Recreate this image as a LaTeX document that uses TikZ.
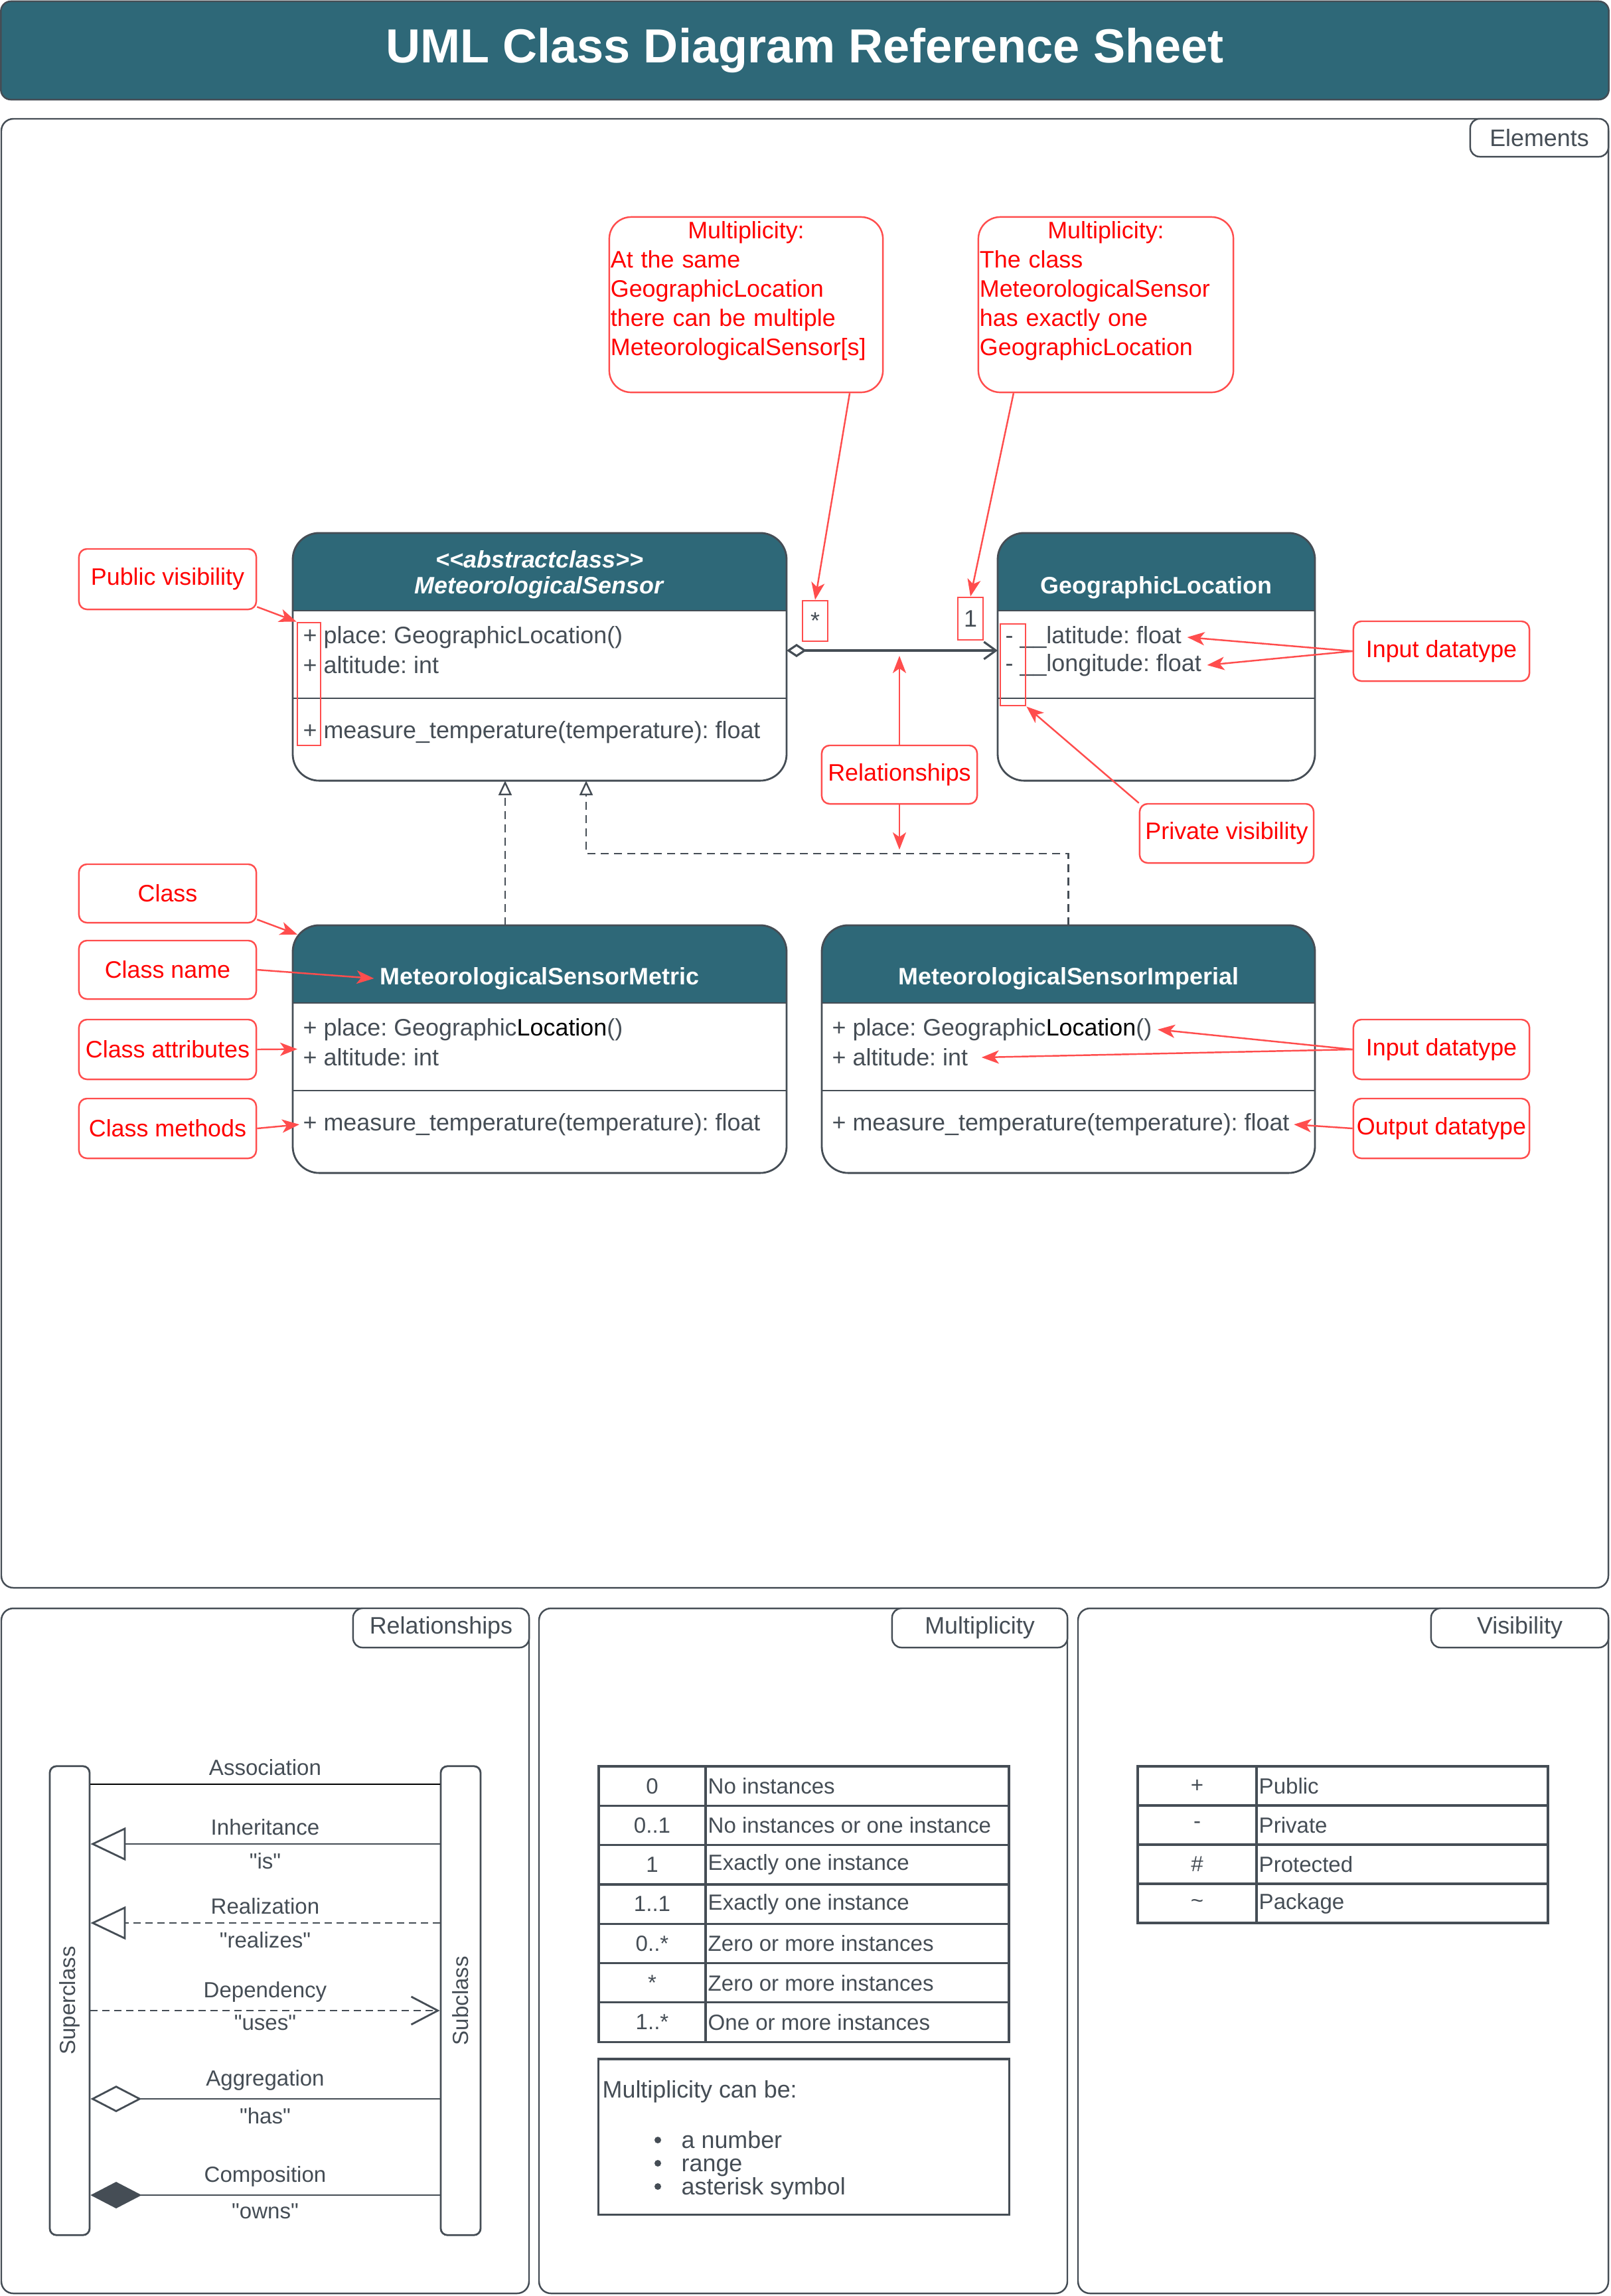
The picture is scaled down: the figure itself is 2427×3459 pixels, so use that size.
\documentclass[tikz,border=0pt]{standalone}
\usepackage{fontspec}
\setmainfont{Liberation Sans}[Ligatures=TeXOff]
\usetikzlibrary{arrows.meta,positioning}

\definecolor{umlteal}{RGB}{46,104,120}
\definecolor{umlgray}{RGB}{69,77,85}
\definecolor{notered}{RGB}{255,77,77}

\begin{document}
\frenchspacing
\begin{tikzpicture}[x=0.01cm, y=-0.01cm,
    font=\fontsize{10.2}{12.5}\selectfont, text=umlgray,
    panel/.style={draw=umlgray, line width=0.7pt, rounded corners=0.18cm},
    tabbox/.style={draw=umlgray, line width=0.7pt, rounded corners=0.14cm, fill=white, inner sep=0pt},
    classframe/.style={draw=umlgray, line width=0.8pt, rounded corners=0.4cm, inner sep=0pt, outer sep=0pt},
    headtext/.style={text=white, font=\fontsize{10.2}{12.5}\selectfont\bfseries},
    member/.style={anchor=west, inner sep=0pt},
    notebox/.style={draw=notered, line width=0.7pt, rounded corners=0.12cm, text=red, inner sep=0pt},
    redmark/.style={draw=notered, line width=0.8pt, inner sep=0pt},
    pointer/.style={draw=notered, line width=0.7pt, -{Stealth[length=0.26cm, width=0.2cm, inset=0.07cm]}},
    aggr/.style={draw=umlgray, line width=0.9pt, {Diamond[open, length=0.3cm, width=0.2cm]}-{Straight Barb[length=0.18cm, width=0.26cm]}},
    realize/.style={draw=umlgray, line width=0.7pt, dash pattern=on 0.12cm off 0.08cm, -{Triangle[open, length=0.22cm, width=0.2cm]}},
    sidebar/.style={draw=umlgray, line width=0.8pt, rounded corners=0.1cm, inner sep=0pt, font=\fontsize{9.4}{11}\selectfont},
    rel/.style={draw=umlgray, line width=0.8pt},
    small/.style={font=\fontsize{9.4}{11}\selectfont},
    grid/.style={draw=umlgray, line width=0.9pt}]

    \useasboundingbox (0,0) rectangle (2427,3459);

    % Title
    \node (titlebar) at (1212.5,76) [draw=umlgray, line width=0.7pt, fill=umlteal, rounded corners=0.15cm, minimum width=24.21cm, minimum height=1.48cm, text=white, font=\fontsize{20.5}{24}\selectfont\bfseries] {UML Class Diagram Reference Sheet};

    % Panels
    \draw[panel] (2,179) rectangle (2423,2392);
    \draw[panel] (2,2423) rectangle (797,3455);
    \draw[panel] (812,2423) rectangle (1608,3455);
    \draw[panel] (1624,2423) rectangle (2423,3455);
    \node (eltab) at (2319,207.5) [tabbox, minimum width=2.08cm, minimum height=0.57cm] {Elements};
    \node (reltab) at (664.5,2452.5) [tabbox, minimum width=2.65cm, minimum height=0.59cm] {Relationships};
    \node (multab) at (1476,2452.5) [tabbox, minimum width=2.64cm, minimum height=0.59cm] {Multiplicity};
    \node (vistab) at (2289.5,2452.5) [tabbox, minimum width=2.67cm, minimum height=0.59cm] {Visibility};

    % Class frames
    \foreach \nm/\xa/\xb/\ya in {msensor/441/1185/803, geoloc/1503/1981/803, metric/441/1185/1394, imperial/1238/1981/1394}{
        \begin{scope}
            \clip[rounded corners=0.4cm] (\xa,\ya) rectangle (\xb,\ya+373);
            \fill[umlteal] (\xa,\ya) rectangle (\xb,\ya+117);
        \end{scope}
        \draw[umlgray, line width=0.8pt] (\xa,\ya+117) -- (\xb,\ya+117) (\xa,\ya+249) -- (\xb,\ya+249);
        \node (\nm) at ({(\xa+\xb)/2},\ya+186.5) [classframe, minimum width={(\xb-\xa)*0.01cm}, minimum height=3.73cm] {};
    }

    % MeteorologicalSensor
    \node (msstereo) at (813,843) [headtext] {\textit{<<abstractclass>>}};
    \node (msname) at (813,885) [headtext] {\textit{MeteorologicalSensor}};
    \node (msplace) at (456,960) [member] {+ place: GeographicLocation()};
    \node (msalt) at (456,1002) [member] {+ altitude: int};
    \node (msmeth) at (456,1103) [member] {+ measure\_temperature(temperature): float};

    % GeographicLocation
    \node (glname) at (1742,885) [headtext] {GeographicLocation};
    \node (gllat) at (1514,960) [member] {- \_\_latitude: float};
    \node (gllon) at (1514,1002) [member] {- \_\_longitude: float};

    % MeteorologicalSensorMetric
    \node (metname) at (813,1474) [headtext] {MeteorologicalSensorMetric};
    \node (metplace) at (456,1551) [member] {+ place: Geographic\textcolor{black}{Location}()};
    \node (metalt) at (456,1593) [member] {+ altitude: int};
    \node (metmeth) at (456,1694) [member] {+ measure\_temperature(temperature): float};

    % MeteorologicalSensorImperial
    \node (impname) at (1610,1474) [headtext] {MeteorologicalSensorImperial};
    \node (impplace) at (1253,1551) [member] {+ place: Geographic\textcolor{black}{Location}()};
    \node (impalt) at (1253,1593) [member] {+ altitude: int};
    \node (impmeth) at (1253,1694) [member] {+ measure\_temperature(temperature): float};

    % Relationships between the classes
    \draw[aggr] ([yshift=0.095cm]msensor.east) -- ([yshift=0.095cm]geoloc.west);
    \draw[realize] ([xshift=-0.52cm]metric.north) -- ([xshift=-0.52cm]msensor.south);
    \draw[realize] (imperial.north) -- ++(0,-108) -| ([xshift=0.7cm]msensor.south);

    % Multiplicity marks and notes
    \node (starmark) at (1228,935.5) [redmark, minimum width=0.38cm, minimum height=0.61cm] {*};
    \node (onemark) at (1462,932) [redmark, minimum width=0.38cm, minimum height=0.64cm] {1};
    \node (mnote1) at (1124,459) [notebox, rounded corners=0.33cm, minimum width=4.12cm, minimum height=2.64cm] {};
    \node (mnote1txt) at (1124,438) [text=red, inner sep=0pt, text width=4.08cm, align=left] {\makebox[\linewidth]{Multiplicity:}\\At the same\\GeographicLocation\\there can be multiple\\MeteorologicalSensor[s]};
    \node (mnote2) at (1666,459) [notebox, rounded corners=0.33cm, minimum width=3.84cm, minimum height=2.64cm] {};
    \node (mnote2txt) at (1666,438) [text=red, inner sep=0pt, text width=3.8cm, align=left] {\makebox[\linewidth]{Multiplicity:}\\The class\\MeteorologicalSensor\\has exactly one\\GeographicLocation};
    \draw[pointer] ([xshift=1.56cm]mnote1.south) -- (starmark.north);
    \draw[pointer] ([xshift=-1.39cm]mnote2.south) -- (onemark.north);

    % Visibility marks and notes
    \node (pubmark) at (465.5,1030.5) [redmark, minimum width=0.35cm, minimum height=1.85cm] {};
    \node (privmark) at (1526,1001.5) [redmark, minimum width=0.38cm, minimum height=1.23cm] {};
    \node (pubnote) at (252.5,872.5) [notebox, minimum width=2.67cm, minimum height=0.91cm] {Public visibility};
    \node (privnote) at (1848,1255.5) [notebox, minimum width=2.62cm, minimum height=0.89cm] {Private visibility};
    \draw[pointer] ([yshift=0.05cm]pubnote.south east) -- (pubmark.north west);
    \draw[pointer] (privnote.north west) -- (privmark.south east);

    % Relationships note
    \node (relnote) at (1355,1167) [notebox, minimum width=2.34cm, minimum height=0.88cm] {Relationships};
    \coordinate (relup) at (1355,988);
    \coordinate (reldown) at (1355,1280);
    \draw[pointer] (relnote.north) -- (relup);
    \draw[pointer] (relnote.south) -- (reldown);

    % Left notes
    \node (classnote) at (252.5,1346) [notebox, minimum width=2.67cm, minimum height=0.88cm] {Class};
    \node (namenote) at (252.5,1461) [notebox, minimum width=2.67cm, minimum height=0.88cm] {Class name};
    \node (attrnote) at (252.5,1581) [notebox, minimum width=2.67cm, minimum height=0.9cm] {Class attributes};
    \node (methnote) at (252.5,1700) [notebox, minimum width=2.67cm, minimum height=0.9cm] {Class methods};
    \draw[pointer] ([yshift=0.06cm]classnote.south east) -- ([shift={(0.07cm,-0.14cm)}]metric.north west);
    \draw[pointer] (namenote.east) -- ([xshift=0.03cm]metname.west);
    \draw[pointer] (attrnote.east) -- ([xshift=0.07cm]metric.west);
    \draw[pointer] (methnote.east) -- ([xshift=-0.05cm]metmeth.west);

    % Right notes
    \node (innote1) at (2171.5,981) [notebox, minimum width=2.65cm, minimum height=0.9cm] {Input datatype};
    \node (innote2) at (2171.5,1581) [notebox, minimum width=2.65cm, minimum height=0.9cm] {Input datatype};
    \node (outnote) at (2171.5,1700) [notebox, minimum width=2.65cm, minimum height=0.9cm] {Output datatype};
    \draw[pointer] (innote1.west) -- ([xshift=0.08cm]gllat.east);
    \draw[pointer] (innote1.west) -- ([xshift=0.08cm]gllon.east);
    \draw[pointer] (innote2.west) -- ([xshift=0.08cm]impplace.east);
    \draw[pointer] (innote2.west) -- ([xshift=0.2cm]impalt.east);
    \draw[pointer] (outnote.west) -- ([xshift=0.06cm]impmeth.east);

    % Relationships legend
    \node (superbar) at (105,3014) [sidebar, rotate=90, minimum width=7.06cm, minimum height=0.6cm] {Superclass};
    \node (subbar) at (694,3014) [sidebar, rotate=90, minimum width=7.06cm, minimum height=0.6cm] {Subclass};
    \draw[rel, draw=black] (superbar.south |- 0,2688) -- node[above, small] (lblassoc) {Association} (subbar.north |- 0,2688);
    \draw[rel, -{Triangle[open, length=0.53cm, width=0.5cm]}] (subbar.north |- 0,2778) -- node[above, small] (lblinh) {Inheritance} node[below, small] (lblis) {"is"} (superbar.south |- 0,2778);
    \draw[rel, dash pattern=on 0.11cm off 0.07cm, -{Triangle[open, length=0.53cm, width=0.5cm]}] (subbar.north |- 0,2897) -- node[above, small] (lblreal) {Realization} node[below, small] (lblrealizes) {"realizes"} (superbar.south |- 0,2897);
    \draw[rel, dash pattern=on 0.11cm off 0.07cm, -{Straight Barb[length=0.4cm, width=0.42cm]}] (superbar.south |- 0,3029) -- node[above, small] (lbldep) {Dependency} node[below, small, inner sep=1.5pt] (lbluses) {"uses"} (subbar.north |- 0,3029);
    \draw[rel, -{Diamond[open, length=0.77cm, width=0.4cm]}] (subbar.north |- 0,3162) -- node[above, small] (lblagg) {Aggregation} node[below, small] (lblhas) {"has"} (superbar.south |- 0,3162);
    \draw[rel, -{Diamond[length=0.77cm, width=0.4cm]}] (subbar.north |- 0,3307) -- node[above, small] (lblcomp) {Composition} node[below, small] (lblowns) {"owns"} (superbar.south |- 0,3307);

    % Multiplicity table
    \foreach \k/\d [count=\i from 0] in {0/No instances, 0..1/No instances or one instance, 1/Exactly one instance, 1..1/Exactly one instance, 0..*/Zero or more instances, */Zero or more instances, 1..*/One or more instances}{
        \draw[grid] (902,2661+59.3*\i) rectangle (1520,2661+59.3*\i+59.3);
        \node (mk\i) at (982.5,2661+59.3*\i+29.65) [small] {\k};
        \node (md\i) at (1066,2661+59.3*\i+29.65) [small, anchor=west, inner sep=0pt] {\d};
    }
    \draw[grid] (1063,2661) -- (1063,3076);
    \node (mulnote) at (1211,3219) [draw=umlgray, line width=0.9pt, minimum width=6.18cm, minimum height=2.34cm, inner sep=0pt] {};
    \node (mulhead) at (907,3151) [anchor=west, inner sep=0pt] {Multiplicity can be:};
    \foreach \t [count=\i from 0] in {a number, range, asterisk symbol}{
        \node (bul\i) at (991,3224+35*\i) [circle, fill=umlgray, inner sep=0pt, minimum size=0.1cm] {};
        \node (item\i) at (1026,3236+35*\i) [anchor=base west, inner sep=0pt] {\t};
    }

    % Visibility table
    \foreach \k/\d [count=\i from 0] in {+/Public, -/Private, \#/Protected, \textasciitilde/Package}{
        \draw[grid] (1714,2661+59*\i) rectangle (2332,2661+59*\i+59);
        \node (vk\i) at (1803.5,2661+59*\i+29.5) [small] {\k};
        \node (vd\i) at (1896,2661+59*\i+29.5) [small, anchor=west, inner sep=0pt] {\d};
    }
    \draw[grid] (1893,2661) -- (1893,2897);
\end{tikzpicture}
\end{document}
